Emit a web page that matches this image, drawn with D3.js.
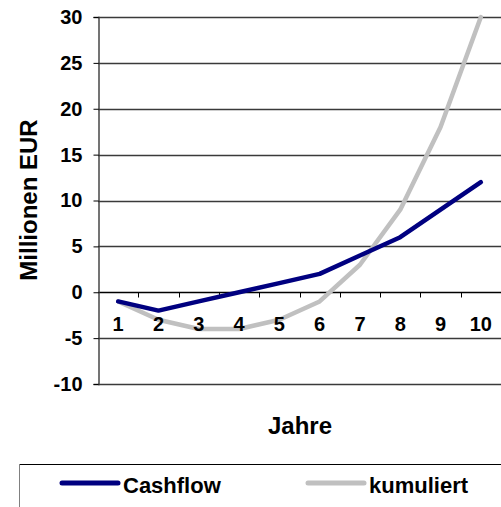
<!DOCTYPE html>
<html>
<head>
<meta charset="utf-8">
<script src="https://cdn.jsdelivr.net/npm/d3@7"></script>
<style>
  body { margin: 0; background: #fff; }
  svg { display: block; font-family: Arial, "Liberation Sans", sans-serif; font-weight: bold; }
</style>
</head>
<body>
<svg id="chart"></svg>
<script>
var years = [1, 2, 3, 4, 5, 6, 7, 8, 9, 10]
var cashflow = [-1, -2, -1, 0, 1, 2, 4, 6, 9, 12]
var kumuliert = [-1, -3, -4, -4, -3, -1, 3, 9, 18, 30]
var yTicks = [-10, -5, 0, 5, 10, 15, 20, 25, 30]

var dimensions = {
    width: 501,
    height: 507,
    margin: { top: 17, bottom: 123, right: 0, left: 98 }
}

var svg = d3.select("#chart")
            .attr("width", dimensions.width)
            .attr("height", dimensions.height)

var xScale = d3.scaleBand()
               .domain(years)
               .range([dimensions.margin.left, dimensions.width - dimensions.margin.right])

var yScale = d3.scaleLinear()
               .domain([-10, 30])
               .range([dimensions.height - dimensions.margin.bottom, dimensions.margin.top])

// horizontal gridlines
svg.append("g")
   .selectAll("line")
   .data(yTicks)
   .enter()
   .append("line")
   .attr("x1", dimensions.margin.left)
   .attr("x2", dimensions.width)
   .attr("y1", d => Math.round(yScale(d)) + 0.5)
   .attr("y2", d => Math.round(yScale(d)) + 0.5)
   .attr("stroke", d => d === 0 ? "#000" : "#3a3a3a")
   .attr("stroke-width", 1.4)

// y axis (plain hyphen for negatives, like the original)
var yAxisGen = d3.axisLeft(yScale).tickValues(yTicks).tickSize(5).tickPadding(11)
                 .tickFormat(d => String(d))
var yAxis = svg.append("g")
               .attr("transform", `translate(${dimensions.margin.left + 0.5},0)`)
               .call(yAxisGen)
yAxis.select(".domain").attr("stroke", "#3a3a3a").attr("stroke-width", 1.4)
yAxis.selectAll(".tick line").attr("stroke", "#000")
yAxis.selectAll("text")
     .attr("font-size", 20)
     .attr("font-weight", "bold")
     .attr("font-family", "Arial, 'Liberation Sans', sans-serif")
     .attr("fill", "#000")

// category ticks on the zero line
var zeroY = Math.round(yScale(0)) + 0.5
svg.append("g")
   .selectAll("line")
   .data(years.slice(1))
   .enter()
   .append("line")
   .attr("x1", d => Math.round(xScale(d)) + 0.5)
   .attr("x2", d => Math.round(xScale(d)) + 0.5)
   .attr("y1", zeroY)
   .attr("y2", zeroY + 5)
   .attr("stroke", "#000")

// lines
var lineGen = d3.line()
                .x((d, i) => xScale(years[i]) + xScale.bandwidth() / 2)
                .y(d => yScale(d))

svg.append("path")
   .datum(kumuliert)
   .attr("d", lineGen)
   .attr("fill", "none")
   .attr("stroke", "#c0c0c0")
   .attr("stroke-width", 4.5)
   .attr("stroke-linecap", "round")
   .attr("stroke-linejoin", "round")

svg.append("path")
   .datum(cashflow)
   .attr("d", lineGen)
   .attr("fill", "none")
   .attr("stroke", "#000080")
   .attr("stroke-width", 4.5)
   .attr("stroke-linecap", "round")
   .attr("stroke-linejoin", "round")

// category labels sit on top of the lines
svg.append("g")
   .selectAll("text")
   .data(years)
   .enter()
   .append("text")
   .attr("x", d => xScale(d) + xScale.bandwidth() / 2)
   .attr("y", zeroY + 38)
   .attr("text-anchor", "middle")
   .attr("font-size", 20)
   .text(d => d)

// axis titles
svg.append("text")
   .attr("transform", "translate(37,200) rotate(-90)")
   .attr("text-anchor", "middle")
   .attr("font-size", 24)
   .text("Millionen EUR")

svg.append("text")
   .attr("x", 300)
   .attr("y", 434)
   .attr("text-anchor", "middle")
   .attr("font-size", 24)
   .text("Jahre")

// legend
var legend = svg.append("g")
legend.append("line")
      .attr("x1", 19.5).attr("x2", dimensions.width)
      .attr("y1", 464.5).attr("y2", 464.5)
      .attr("stroke", "#000")
legend.append("line")
      .attr("x1", 19.5).attr("x2", 19.5)
      .attr("y1", 464.5).attr("y2", dimensions.height)
      .attr("stroke", "#808080")

var legendItems = [
    { name: "Cashflow", color: "#000080", x: 62 },
    { name: "kumuliert", color: "#c0c0c0", x: 308 }
]
var items = legend.selectAll("g.item")
                  .data(legendItems)
                  .enter()
                  .append("g")
                  .attr("class", "item")
                  .attr("transform", d => `translate(${d.x},483)`)
items.append("line")
     .attr("x1", 0).attr("x2", 56)
     .attr("stroke", d => d.color)
     .attr("stroke-width", 5)
     .attr("stroke-linecap", "round")
items.append("text")
     .attr("x", 61)
     .attr("y", 10)
     .attr("font-size", 22)
     .text(d => d.name)
</script>
</body>
</html>
